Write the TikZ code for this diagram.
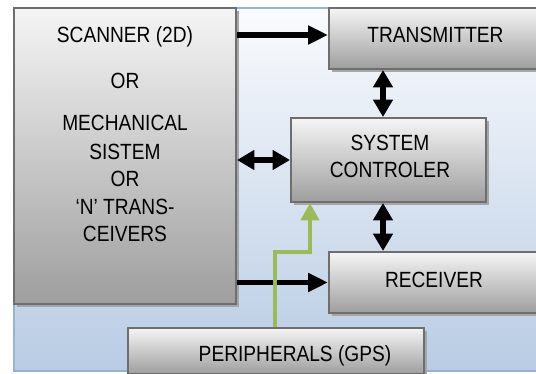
\documentclass[tikz,border=0pt]{standalone}
\usepackage{fontspec}
\setmainfont{Liberation Sans}[FakeStretch=0.87]
\usetikzlibrary{arrows.meta,shadows}
\definecolor{bord}{HTML}{6E6E6E}
\definecolor{shad}{HTML}{A6A6A6}
\definecolor{bgtop}{HTML}{FAFBFD}
\definecolor{bgbot}{HTML}{B8CCE4}
\definecolor{bgline}{HTML}{95B3D7}
\definecolor{grn}{HTML}{9BBB59}
\begin{document}
\begin{tikzpicture}[x=0.75pt,y=-0.75pt,
  box/.style={draw=bord, line width=1.5pt, top color=white!96!black, bottom color=black!38,
    inner sep=0pt, drop shadow={shadow xshift=2.25pt, shadow yshift=-2.25pt, fill=shad, opacity=1}},
  txt/.style={font=\fontsize{16.5pt}{20pt}\selectfont, inner sep=0pt, anchor=base},
  arr/.style={line width=3.9pt, -{Triangle[length=15pt,width=13.5pt]}},
  darr/.style={line width=3.9pt, {Triangle[length=13pt,width=14.25pt]}-{Triangle[length=13pt,width=14.25pt]}},
  garr/.style={draw=grn, line width=3.6pt, -{Triangle[length=13pt,width=13.5pt]}}]
\useasboundingbox (0,0) rectangle (536,374);
\clip (0,0) rectangle (536,374);
% background
\path[top color=bgtop, bottom color=bgbot, draw=bgline, line width=0.9pt] (14,8) rectangle (545,371);
% boxes
\node[box, minimum width=166.5pt, minimum height=222pt] (scan) at (125,156) {};
\node[box, minimum width=159.75pt, minimum height=45.75pt] (trans) at (435.5,38.5) {};
\node[box, minimum width=146.25pt, minimum height=63pt] (ctrl) at (388.5,160) {};
\node[box, minimum width=159.75pt, minimum height=45.75pt] (recv) at (435.5,282.5) {};
\node[box, minimum width=222pt, minimum height=34.5pt] (peri) at (276,351) {};
% texts
\node[txt] (s1) at (125,43) {SCANNER (2D)};
\node[txt] (s2) at (125,89) {OR};
\node[txt] (s3) at (125,131) {MECHANICAL};
\node[txt] (s4) at (125,160) {SISTEM};
\node[txt] (s5) at (125,187) {OR};
\node[txt] (s6) at (125,215) {‘N’ TRANS-};
\node[txt] (s7) at (125,242) {CEIVERS};
\node[txt] (t1) at (435.5,43) {TRANSMITTER};
\node[txt] (c1) at (390,151) {SYSTEM};
\node[txt] (c2) at (390,178) {CONTROLER};
\node[txt] (r1) at (434,287) {RECEIVER};
\node[txt] (p1) at (295,361) {PERIPHERALS (GPS)};
% connectors
\coordinate (y1) at (0,35);
\coordinate (vx) at (383,0);
\coordinate (gx) at (275,0);
\coordinate (gy) at (0,252);
\coordinate (hx) at (310,0);
\draw[arr] (scan.east |- y1) -- (trans.west |- y1);
\draw[darr] (trans.south -| vx) -- (ctrl.north -| vx);
\draw[darr] (scan.east |- ctrl.west) -- (ctrl.west);
\draw[darr] (ctrl.south -| vx) -- (recv.north -| vx);
\draw[arr] (scan.east |- recv.west) -- (recv.west);
\draw[garr] (peri.north -| gx) -- (gx |- gy) -- (hx |- gy) -- (ctrl.south -| hx);
\end{tikzpicture}
\end{document}
